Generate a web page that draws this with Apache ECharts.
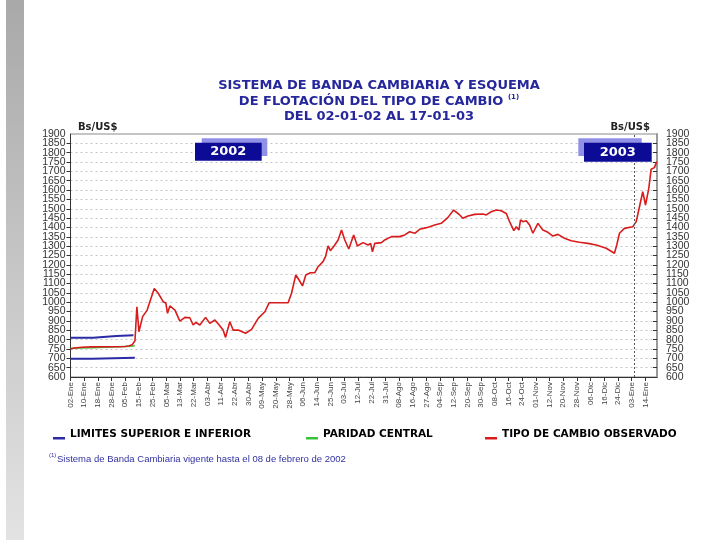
<!DOCTYPE html>
<html>
<head>
<meta charset="utf-8">
<script src="https://cdn.jsdelivr.net/npm/echarts@6/dist/echarts.min.js"></script>
<style>html,body{margin:0;padding:0;background:#fff}#c{width:720px;height:540px}</style>
</head>
<body>
<div id="c"></div>
<script>
const xTickLabels = ["02-Ene","10-Ene","18-Ene","28-Ene","05-Feb","15-Feb","25-Feb","05-Mar","13-Mar","22-Mar","03-Abr","11-Abr","22-Abr","30-Abr","09-May","20-May","28-May","06-Jun","14-Jun","25-Jun","03-Jul","12-Jul","22-Jul","31-Jul","08-Ago","16-Ago","27-Ago","04-Sep","12-Sep","20-Sep","30-Sep","08-Oct","16-Oct","24-Oct","01-Nov","12-Nov","20-Nov","28-Nov","06-Dic","16-Dic","24-Dic","03-Ene","14-Ene"];
const bandUpper = [[0,810],[1.65,810],[1.65,819],[3.35,819],[3.35,823],[4.6,823]];
const bandLower = [[0,698],[1.6,698],[1.6,703],[4.7,703]];
const paridadCentral = [[0,754],[1.6,756],[1.65,760],[3.4,762],[4.4,764],[4.7,767]];
const tipoObservado = [[0,750],[0.3,755],[0.8,759],[1.5,761],[2.5,762],[3.5,762],[4.0,763],[4.3,767],[4.5,772],[4.71,794],[4.85,976],[5.0,842],[5.27,923],[5.6,958],[6.12,1074],[6.41,1048],[6.77,1003],[6.96,996],[7.09,941],[7.26,980],[7.63,958],[7.99,899],[8.36,919],[8.72,917],[8.96,878],[9.16,892],[9.45,878],[9.87,919],[10.18,887],[10.55,905],[10.86,878],[11.15,851],[11.33,812],[11.64,896],[11.88,851],[12.25,851],[12.79,834],[13.23,855],[13.71,914],[14.2,949],[14.51,997],[15.29,997],[15.9,997],[16.15,1048],[16.46,1146],[16.7,1119],[16.95,1087],[17.19,1146],[17.53,1158],[17.85,1158],[18.09,1190],[18.45,1217],[18.63,1244],[18.82,1301],[18.99,1276],[19.31,1306],[19.55,1333],[19.8,1386],[20.04,1333],[20.33,1285],[20.69,1360],[20.96,1301],[21.37,1319],[21.74,1306],[21.93,1315],[22.06,1270],[22.23,1315],[22.72,1319],[22.96,1333],[23.45,1351],[24.05,1351],[24.42,1360],[24.78,1377],[25.15,1369],[25.51,1390],[26.0,1399],[26.24,1404],[26.61,1413],[27.09,1422],[27.58,1454],[27.99,1493],[28.36,1472],[28.67,1449],[29.04,1461],[29.53,1470],[30.13,1472],[30.38,1467],[30.74,1484],[31.11,1493],[31.47,1489],[31.84,1475],[32.08,1431],[32.39,1383],[32.57,1404],[32.76,1386],[32.88,1440],[33.05,1431],[33.3,1436],[33.54,1413],[33.78,1369],[34.15,1422],[34.51,1386],[34.88,1374],[35.24,1354],[35.61,1363],[36.09,1342],[36.58,1329],[37.19,1321],[37.8,1315],[38.41,1306],[39.14,1289],[39.74,1262],[39.91,1306],[40.11,1369],[40.47,1395],[41.08,1404],[41.33,1431],[41.57,1511],[41.81,1591],[42.01,1520],[42.25,1609],[42.42,1711],[42.66,1720],[42.83,1752]];
const yearBoundary = 41.17;
const yMin = 600, yMax = 1900, yStep = 50;

const chart = echarts.init(document.getElementById('c'), null, {renderer:'canvas'});
const ff = 'DejaVu Sans';
const underscoreIcon = 'path://M0 0L0.01 0L0.01 0.01Z M0 7.5L12 7.5L12 10L0 10Z';
const legendText = {fontFamily:ff, fontWeight:'bold', fontSize:10.5, color:'#000'};
const yLabel = {fontSize:10.5, color:'#333', fontFamily:'Liberation Sans', formatter:v => String(v)};
const gridBox = {left:70.5, right:63, top:134, bottom:163};
const option = {
  backgroundColor:'#ffffff',
  animation:false,
  title:{
    text:'SISTEMA DE BANDA CAMBIARIA Y ESQUEMA\nDE FLOTACIÓN DEL TIPO DE CAMBIO {sup|(1)}\nDEL 02-01-02 AL 17-01-03',
    left:374, top:73, textAlign:'center',
    textStyle:{fontFamily:ff, fontWeight:'bold', fontSize:13, color:'#27279c', lineHeight:15.5,
      rich:{sup:{fontSize:7, fontFamily:ff, fontWeight:'bold', color:'#27279c', verticalAlign:'top', padding:[0,0,6,0]}}}
  },
  grid:[
    Object.assign({show:true, borderColor:'#8a8a8a', borderWidth:1}, gridBox),
    Object.assign({show:false}, gridBox)
  ],
  legend:[
    {data:['LIMITES SUPERIOR E INFERIOR'], left:53, top:429, padding:0, itemWidth:12, itemHeight:10, icon:underscoreIcon, textStyle:legendText},
    {data:['PARIDAD CENTRAL'], left:306, top:429, padding:0, itemWidth:12, itemHeight:10, icon:underscoreIcon, textStyle:legendText},
    {data:['TIPO DE CAMBIO OBSERVADO'], left:485, top:429, padding:0, itemWidth:12, itemHeight:10, icon:underscoreIcon, textStyle:legendText}
  ],
  xAxis:[
    {type:'value', gridIndex:0, min:0, max:42.85, interval:1,
      axisLine:{lineStyle:{color:'#333', width:1}},
      axisTick:{show:true, length:4, lineStyle:{color:'#333'}},
      splitLine:{show:false},
      axisLabel:{rotate:90, fontSize:8, color:'#444', fontFamily:'Liberation Sans', margin:5, showMaxLabel:false,
        formatter:v => (Number.isInteger(v) && xTickLabels[v]) ? xTickLabels[v] : ''}},
    {type:'value', gridIndex:1, min:0, max:42.85, show:false}
  ],
  yAxis:[
    {type:'value', gridIndex:0, min:yMin, max:yMax, interval:yStep, position:'left',
      axisLine:{show:true, lineStyle:{color:'#333', width:1}},
      axisTick:{show:true, length:4, lineStyle:{color:'#333'}},
      axisLabel:Object.assign({margin:5, showMinLabel:false, showMaxLabel:false}, yLabel),
      splitLine:{show:true, lineStyle:{color:'#c4c4c4', type:[2,3], width:1}}},
    {type:'value', gridIndex:0, min:yMin, max:yMax, interval:yStep, position:'right',
      axisLine:{show:true, lineStyle:{color:'#9a9a9a', width:2}},
      axisTick:{show:true, inside:true, length:4, lineStyle:{color:'#333'}},
      axisLabel:Object.assign({margin:9, showMinLabel:false, showMaxLabel:false}, yLabel),
      splitLine:{show:false}},
    {type:'value', gridIndex:1, min:yMin, max:yMax, interval:yMax - yMin, position:'left',
      axisLine:{show:false}, axisTick:{show:false}, splitLine:{show:false},
      axisLabel:Object.assign({margin:5, showMinLabel:true, showMaxLabel:true}, yLabel)},
    {type:'value', gridIndex:1, min:yMin, max:yMax, interval:yMax - yMin, position:'right',
      axisLine:{show:false}, axisTick:{show:false}, splitLine:{show:false},
      axisLabel:Object.assign({margin:9, showMinLabel:true, showMaxLabel:true}, yLabel)}
  ],
  series:[
    {name:'LIMITES SUPERIOR E INFERIOR', type:'line', data:bandUpper, symbol:'none', color:'#2b2ba6',
      lineStyle:{color:'#2b2ba6', width:2}},
    {name:'LIMITES SUPERIOR E INFERIOR', type:'line', data:bandLower, symbol:'none', color:'#2b2ba6',
      lineStyle:{color:'#2b2ba6', width:2}},
    {name:'PARIDAD CENTRAL', type:'line', data:paridadCentral, symbol:'none', color:'#39c239',
      lineStyle:{color:'#39c239', width:1.5}},
    {name:'TIPO DE CAMBIO OBSERVADO', type:'line', data:tipoObservado, symbol:'none', color:'#d81c1c',
      lineStyle:{color:'#d81c1c', width:1.6},
      markLine:{silent:true, symbol:'none', label:{show:false},
        lineStyle:{color:'#555', type:[2,2], width:1}, data:[{xAxis:yearBoundary}]}}
  ],
  graphic:[
    {type:'rect', left:6, top:0, shape:{width:18, height:540}, z:0,
      style:{fill:new echarts.graphic.LinearGradient(0,0,0,1,[{offset:0,color:'#a9a9a9'},{offset:1,color:'#e3e3e3'}])}},
    {type:'text', x:78, y:127, z:12, style:{text:'Bs/US$', fill:'#222', font:'bold 10px "DejaVu Sans"', textVerticalAlign:'middle'}},
    {type:'text', x:650, y:127, z:12, style:{text:'Bs/US$', fill:'#222', font:'bold 10px "DejaVu Sans"', textAlign:'right', textVerticalAlign:'middle'}},
    {type:'rect', shape:{x:201.7, y:138.3, width:65.6, height:17.7}, z:10, style:{fill:'#9090e6'}},
    {type:'rect', shape:{x:195, y:142.7, width:66.7, height:18}, z:11, style:{fill:'#0b0b96'}},
    {type:'text', x:228.3, y:152, z:12, style:{text:'2002', fill:'#fff', font:'bold 13px "DejaVu Sans"', textAlign:'center', textVerticalAlign:'middle'}},
    {type:'rect', shape:{x:578.3, y:138.3, width:63.4, height:17.7}, z:10, style:{fill:'#9090e6'}},
    {type:'rect', shape:{x:584, y:142.7, width:67.7, height:19}, z:11, style:{fill:'#0b0b96'}},
    {type:'text', x:617.8, y:152.5, z:12, style:{text:'2003', fill:'#fff', font:'bold 13px "DejaVu Sans"', textAlign:'center', textVerticalAlign:'middle'}},
    {type:'text', x:49, y:452, z:12, style:{text:'(1)', fill:'#3232a0', font:'6px "Liberation Sans"'}},
    {type:'text', x:57, y:454, z:12, style:{text:'Sistema de Banda Cambiaria vigente hasta el 08 de febrero de 2002', fill:'#3232a0', font:'9.5px "Liberation Sans"'}}
  ]
};
chart.setOption(option);
</script>
</body>
</html>
